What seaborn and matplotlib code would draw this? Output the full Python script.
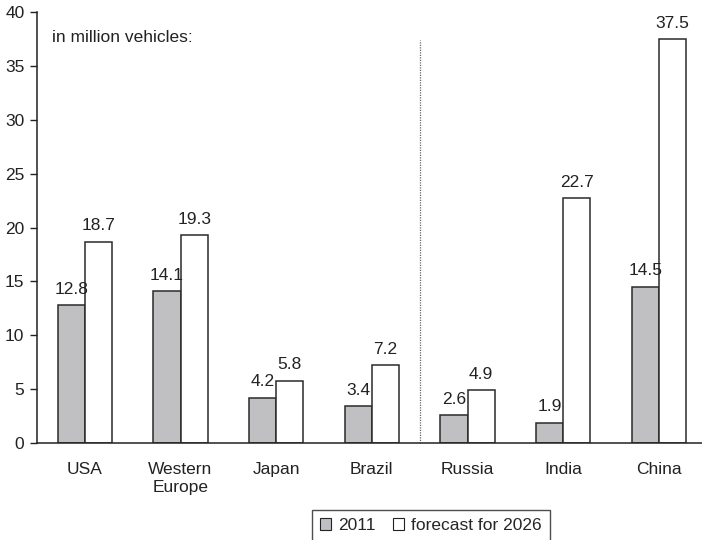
import matplotlib
matplotlib.use("Agg")
import matplotlib.pyplot as plt
import seaborn as sns
import pandas as pd
from matplotlib.patches import Patch

regions = ["USA", "Western\nEurope", "Japan", "Brazil", "Russia", "India", "China"]
values_2011 = [12.8, 14.1, 4.2, 3.4, 2.6, 1.9, 14.5]
values_2026 = [18.7, 19.3, 5.8, 7.2, 4.9, 22.7, 37.5]
series = ["2011", "forecast for 2026"]
yticks = [0, 5, 10, 15, 20, 25, 30, 35, 40]

df = pd.DataFrame({
    "region": regions * 2,
    "value": values_2011 + values_2026,
    "series": [series[0]] * len(regions) + [series[1]] * len(regions),
})

sns.set_theme(style="white")
plt.rcParams["font.family"] = ["Liberation Sans", "DejaVu Sans"]

FS = 12.5
fig = plt.figure(figsize=(7.02, 5.40), dpi=100)
ax = fig.add_axes([0.0527, 0.1796, 0.954, 0.798])

sns.barplot(data=df, x="region", y="value", hue="series",
            palette={series[0]: "#bfc0c4", series[1]: "white"},
            edgecolor="#2a2a2a", linewidth=1.1, width=0.57,
            ax=ax, legend=False)

for cont in ax.containers:
    ax.bar_label(cont, fmt="%.1f", padding=6, fontsize=FS, color="#222222")

ax.set_xlim(-0.5, 6.5)
ax.set_ylim(0, 40)
ax.set_yticks(yticks)
ax.set_xlabel("")
ax.set_ylabel("")
ax.tick_params(axis="y", left=True, length=5, width=1, color="#222222",
               labelsize=FS, labelcolor="#222222", pad=4)
ax.tick_params(axis="x", bottom=False, labelsize=FS, labelcolor="#222222", pad=8)
for s in ["top", "right"]:
    ax.spines[s].set_visible(False)
for s in ["left", "bottom"]:
    ax.spines[s].set_color("#222222")
    ax.spines[s].set_linewidth(1.1)

ax.vlines(3.5, 0, 37.4, colors="#666666", linestyles=(0, (1, 1)), linewidth=0.9)
ax.text(-0.34, 37.6, "in million vehicles:", fontsize=FS, color="#222222",
        ha="left", va="center")

handles = [Patch(facecolor="#bfc0c4", edgecolor="#222222", linewidth=0.8),
           Patch(facecolor="white", edgecolor="#222222", linewidth=0.8)]
leg = fig.legend(handles, series, loc="center", bbox_to_anchor=(0.614, 0.027),
                 ncol=2, frameon=True, fancybox=False, fontsize=FS,
                 handlelength=0.65, handleheight=0.65, handletextpad=0.4,
                 columnspacing=1.0, borderpad=0.45, edgecolor="#222222")
leg.get_frame().set_linewidth(1.0)

fig.savefig("out.png", dpi=100)
